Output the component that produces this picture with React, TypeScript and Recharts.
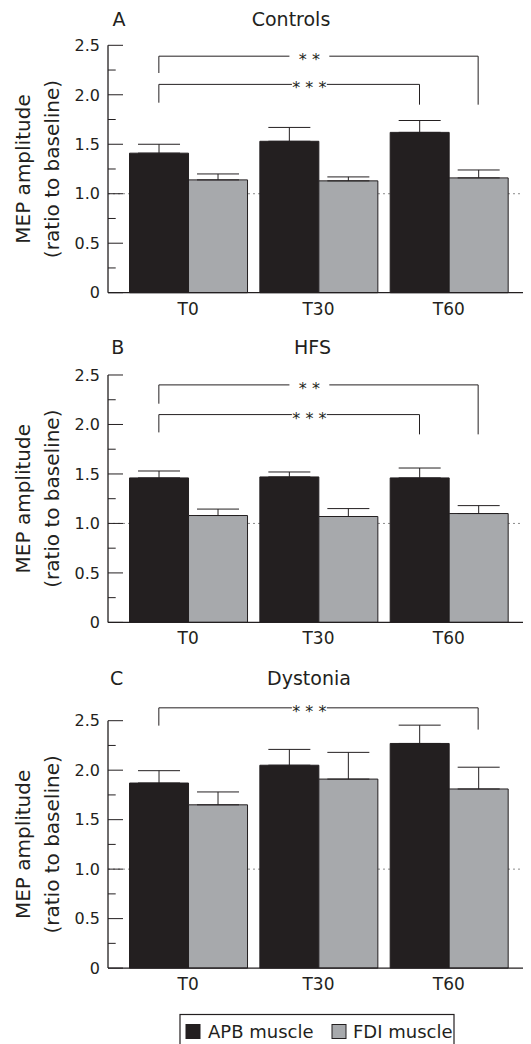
import React from "react";
import {
  BarChart, Bar, XAxis, YAxis, CartesianGrid, ErrorBar, ReferenceLine, ReferenceDot,
} from "recharts";

const timepoints = ["T0", "T30", "T60"];

const controlsApb = [1.41, 1.53, 1.62];
const controlsApbErr = [0.09, 0.14, 0.12];
const controlsFdi = [1.14, 1.13, 1.16];
const controlsFdiErr = [0.06, 0.04, 0.08];

const hfsApb = [1.46, 1.47, 1.46];
const hfsApbErr = [0.07, 0.05, 0.1];
const hfsFdi = [1.08, 1.07, 1.1];
const hfsFdiErr = [0.065, 0.08, 0.08];

const dystoniaApb = [1.87, 2.05, 2.27];
const dystoniaApbErr = [0.125, 0.16, 0.185];
const dystoniaFdi = [1.65, 1.91, 1.81];
const dystoniaFdiErr = [0.13, 0.27, 0.22];

const yTicks = [0, 0.25, 0.5, 0.75, 1, 1.25, 1.5, 1.75, 2, 2.25, 2.5];

// significance brackets: bar at each end, bracket height, where each leg stops, stars
const controlsBrackets = [
  { from: 0, fromBar: "apb", to: 2, toBar: "fdi", y: 2.39, leftEnd: 2.22, rightEnd: 1.9, stars: "* *" },
  { from: 0, fromBar: "apb", to: 2, toBar: "apb", y: 2.105, leftEnd: 1.92, rightEnd: 1.9, stars: "* * *" },
];
const hfsBrackets = [
  { from: 0, fromBar: "apb", to: 2, toBar: "fdi", y: 2.4, leftEnd: 2.21, rightEnd: 1.9, stars: "* *" },
  { from: 0, fromBar: "apb", to: 2, toBar: "apb", y: 2.1, leftEnd: 1.92, rightEnd: 1.9, stars: "* * *" },
];
const dystoniaBrackets = [
  { from: 0, fromBar: "apb", to: 2, toBar: "fdi", y: 2.63, leftEnd: 2.45, rightEnd: 2.41, stars: "* * *" },
];

const INK = "#231f20";
const GREY = "#a7a9ac";
const FONT = "'DejaVu Sans', Verdana, sans-serif";
const PLOT_H = 247.4;
const X_AXIS_H = 30;
const TICK_MARGIN = 8;
const CAT_GAP = 0.05;
const STAR_X = 1.43;
const STAR_GAP: Record<string, number> = { "* *": 0.153, "* * *": 0.134 };

// position of a bar's centre on the hidden numeric axis (one unit per category)
const barCentre = (i: number, bar: string) => {
  const off = CAT_GAP + (1 - 2 * CAT_GAP) / 4;
  return i + (bar === "apb" ? off : 1 - off);
};

const YTick = ({ x, y, payload }: any) => {
  const v = payload.value;
  const major = Math.abs(v * 2 - Math.round(v * 2)) < 1e-6;
  const ax = x + TICK_MARGIN;
  return (
    <g>
      <line x1={ax} x2={ax + (major ? 15 : 7.7)} y1={y} y2={y} stroke={INK} strokeWidth={1} />
      {major && (
        <text x={x} y={y} dy="0.36em" textAnchor="end" fill={INK} fontSize={16} fontFamily={FONT}>
          {v === 0 ? "0" : v.toFixed(1)}
        </text>
      )}
    </g>
  );
};

const StarLabel = ({ viewBox, value }: any) => (
  <text x={viewBox.x} y={viewBox.y} dy={9} textAnchor="middle" fill={INK} fontSize={16} fontFamily={FONT}>
    {value}
  </text>
);

interface PanelProps {
  top: number;
  marginTop: number;
  titleY: number;
  letterX: number;
  letter: string;
  title: string;
  titleX: number;
  apb: number[];
  apbErr: number[];
  fdi: number[];
  fdiErr: number[];
  brackets: typeof controlsBrackets;
}

function Panel(p: PanelProps) {
  const { top, marginTop, titleY, letterX, letter, title, titleX, apb, apbErr, fdi, fdiErr, brackets } = p;
  const data = timepoints.map((t, i) => ({
    t,
    pos: i + 0.5,
    apb: apb[i],
    fdi: fdi[i],
    apbErr: [0, apbErr[i]],
    fdiErr: [0, fdiErr[i]],
  }));
  const height = marginTop + PLOT_H + X_AXIS_H;
  const midY = marginTop + PLOT_H / 2;
  const line = { stroke: INK, strokeWidth: 1, xAxisId: "n", ifOverflow: "visible" as const };

  return (
    <div style={{ position: "absolute", left: 0, top, width: 531, height }}>
      <BarChart
        width={531}
        height={height}
        data={data}
        margin={{ top: marginTop, right: 8, bottom: 0, left: 0 }}
        barCategoryGap={`${CAT_GAP * 100}%`}
        barGap={0}
      >
        <CartesianGrid vertical={false} horizontalValues={[1]} stroke="#8a8a8a" strokeDasharray="2 3" />
        <XAxis
          dataKey="t"
          padding={{ left: 15, right: 9 }}
          height={X_AXIS_H}
          tickSize={0}
          tickMargin={10}
          tick={{ fill: INK, fontSize: 17, fontFamily: FONT }}
          axisLine={{ stroke: INK, strokeWidth: 1.3 }}
          tickLine={false}
        />
        <XAxis
          xAxisId="n"
          dataKey="pos"
          type="number"
          domain={[0, 3]}
          allowDataOverflow
          padding={{ left: 15, right: 9 }}
          hide
        />
        <YAxis
          width={108}
          domain={[0, 2.5]}
          ticks={yTicks}
          interval={0}
          tickSize={0}
          tickMargin={TICK_MARGIN}
          tick={<YTick />}
          tickLine={false}
          axisLine={{ stroke: INK, strokeWidth: 1.3 }}
        />
        <Bar dataKey="apb" fill={INK} stroke={INK} strokeWidth={1} isAnimationActive={false}>
          <ErrorBar dataKey="apbErr" width={21} stroke={INK} strokeWidth={1} direction="y" isAnimationActive={false} />
        </Bar>
        <Bar dataKey="fdi" fill={GREY} stroke={INK} strokeWidth={1} isAnimationActive={false}>
          <ErrorBar dataKey="fdiErr" width={21} stroke={INK} strokeWidth={1} direction="y" isAnimationActive={false} />
        </Bar>
        {brackets.map((b, k) => {
          const xl = barCentre(b.from, b.fromBar);
          const xr = barCentre(b.to, b.toBar);
          const g = STAR_GAP[b.stars] ?? 0.15;
          return [
            <ReferenceLine key={`l${k}`} {...line} segment={[{ x: xl, y: b.leftEnd }, { x: xl, y: b.y }]} />,
            <ReferenceLine key={`r${k}`} {...line} segment={[{ x: xr, y: b.rightEnd }, { x: xr, y: b.y }]} />,
            <ReferenceLine key={`a${k}`} {...line} segment={[{ x: xl, y: b.y }, { x: STAR_X - g, y: b.y }]} />,
            <ReferenceLine key={`b${k}`} {...line} segment={[{ x: STAR_X + g, y: b.y }, { x: xr, y: b.y }]} />,
            <ReferenceDot
              key={`s${k}`}
              xAxisId="n"
              x={STAR_X}
              y={b.y}
              r={0}
              fill="none"
              stroke="none"
              ifOverflow="visible"
              label={<StarLabel value={b.stars} />}
            />,
          ];
        })}
      </BarChart>
      <svg width={531} height={height} style={{ position: "absolute", left: 0, top: 0, pointerEvents: "none" }}>
        <g fill={INK} fontFamily={FONT} textAnchor="middle">
          <text x={letterX} y={titleY} dy="0.36em" fontSize={19}>{letter}</text>
          <text x={titleX} y={titleY} dy="0.36em" fontSize={19}>{title}</text>
          <text x={23} y={midY} dy="0.36em" fontSize={20} transform={`rotate(-90 23 ${midY})`}>MEP amplitude</text>
          <text x={52} y={midY} dy="0.36em" fontSize={20} transform={`rotate(-90 52 ${midY})`}>(ratio to baseline)</text>
        </g>
      </svg>
    </div>
  );
}

const legendItems = [
  { name: "APB muscle", fill: INK, swatchX: 186, textX: 208 },
  { name: "FDI muscle", fill: GREY, swatchX: 332, textX: 353 },
];

export default function App() {
  return (
    <div style={{ position: "absolute", left: 0, top: 0, width: 531, height: 1044, background: "#fff", overflow: "hidden" }}>
      <Panel
        top={0} marginTop={45.3} titleY={19} letterX={119} letter="A" title="Controls" titleX={291}
        apb={controlsApb} apbErr={controlsApbErr} fdi={controlsFdi} fdiErr={controlsFdiErr}
        brackets={controlsBrackets}
      />
      <Panel
        top={330} marginTop={45} titleY={17.5} letterX={117.7} letter="B" title="HFS" titleX={312.5}
        apb={hfsApb} apbErr={hfsApbErr} fdi={hfsFdi} fdiErr={hfsFdiErr}
        brackets={hfsBrackets}
      />
      <Panel
        top={640} marginTop={80.7} titleY={38} letterX={116.7} letter="C" title="Dystonia" titleX={309}
        apb={dystoniaApb} apbErr={dystoniaApbErr} fdi={dystoniaFdi} fdiErr={dystoniaFdiErr}
        brackets={dystoniaBrackets}
      />
      <svg width={531} height={44} style={{ position: "absolute", left: 0, top: 1000 }}>
        <rect x={180} y={14.5} width={274} height={40} fill="none" stroke={INK} strokeWidth={1.2} />
        {legendItems.map((it) => (
          <g key={it.name}>
            <rect x={it.swatchX} y={24.5} width={14} height={14} fill={it.fill} stroke={INK} strokeWidth={1} />
            <text x={it.textX} y={38} fill={INK} fontSize={18} fontFamily={FONT}>{it.name}</text>
          </g>
        ))}
      </svg>
    </div>
  );
}
